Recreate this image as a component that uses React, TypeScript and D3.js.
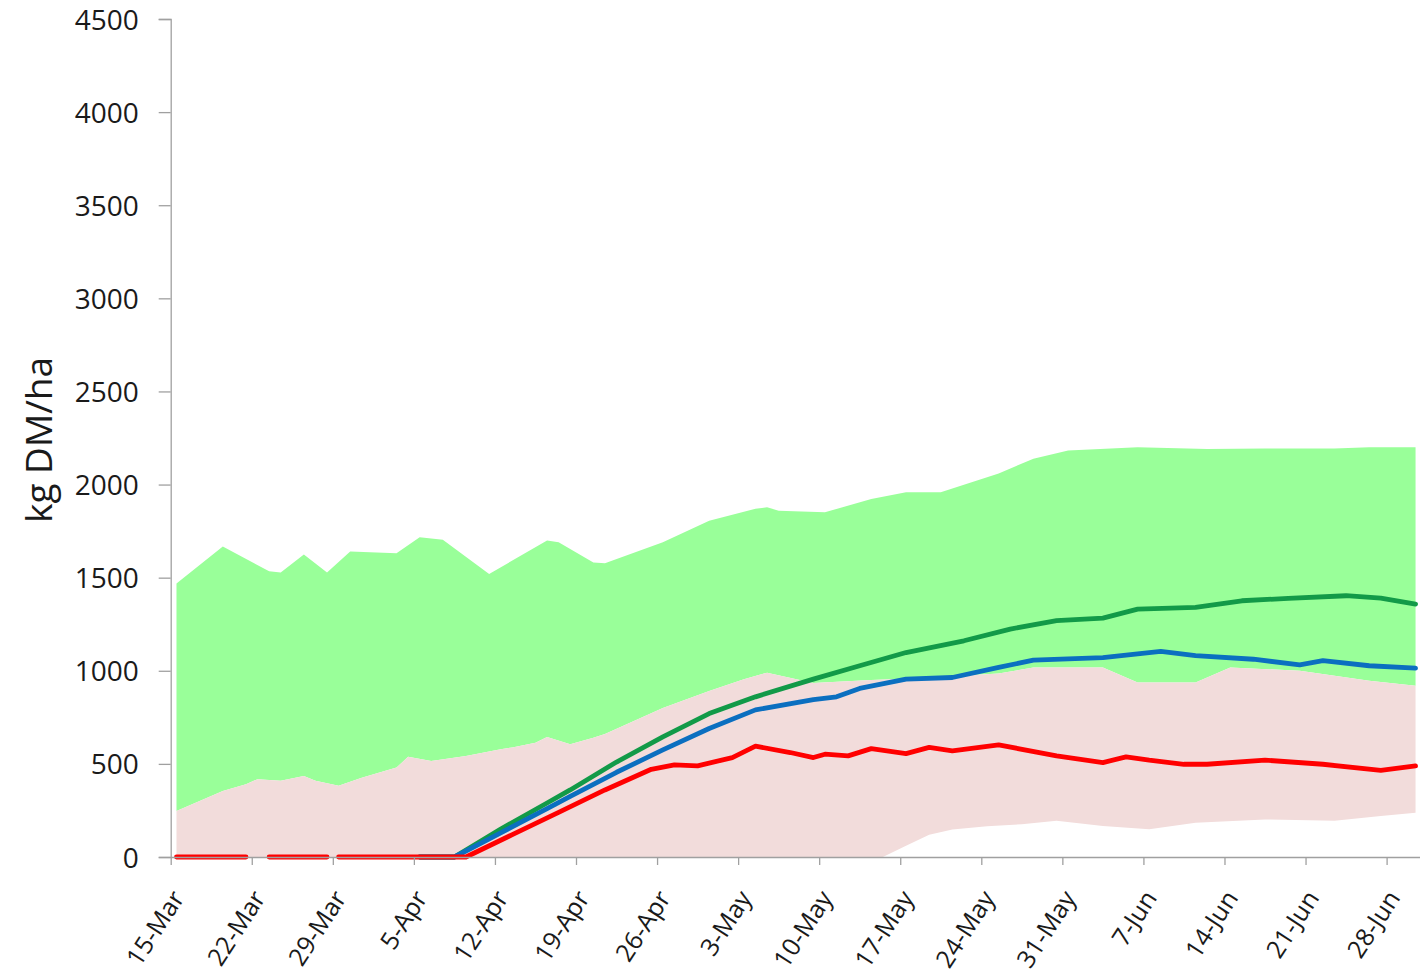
import React, { useEffect, useRef } from "react";
import * as d3 from "d3";

// Day offsets are counted from 15-Mar (day 0); values in kg DM/ha
const startDate = Date.UTC(2023, 2, 15);
const endDate = Date.UTC(2023, 6, 1);

const yTicks = [0, 500, 1000, 1500, 2000, 2500, 3000, 3500, 4000, 4500];
const xTickDays = [0, 7, 14, 21, 28, 35, 42, 49, 56, 63, 70, 77, 84, 91, 98, 105];

const greenBandTop: [number, number][] = [
  [0, 1469], [4, 1667], [8, 1534], [9, 1528], [11, 1624], [13, 1528], [15, 1641],
  [19, 1631], [21, 1717], [23, 1703], [27, 1520], [32, 1699], [33, 1690], [36, 1582],
  [37, 1577], [42, 1690], [46, 1806], [50, 1870], [51, 1878], [52, 1860], [56, 1851],
  [60, 1923], [63, 1959], [66, 1959], [71, 2060], [74, 2139], [77, 2183], [83, 2200],
  [89, 2191], [94, 2193], [100, 2193], [103, 2200], [107, 2200],
];

const pinkBandTop: [number, number][] = [
  [0, 247], [1, 274], [3, 328], [4, 355], [6, 391], [7, 418], [9, 409], [11, 435],
  [12, 409], [14, 382], [16, 426], [19, 480], [20, 538], [22, 516], [25, 543],
  [28, 579], [29, 588], [31, 614], [32, 645], [34, 606], [36, 641], [37, 660],
  [42, 800], [46, 892], [49, 955], [51, 990], [55, 935], [60, 950], [64, 960],
  [68, 975], [71, 985], [74, 1018], [80, 1018], [83, 937], [88, 937], [91, 1018],
  [97, 1000], [100, 973], [103, 946], [107, 919],
];

const pinkBandBottom: [number, number][] = [
  [0, 0], [61, 0], [63, 60], [65, 120], [67, 148], [70, 165], [73, 176], [76, 194],
  [80, 167], [84, 149], [88, 184], [94, 202], [100, 194], [104, 220], [107, 238],
];

const greenLine: [number, number][] = [
  [21, 0], [24, 0], [28, 150], [32, 290], [34, 360], [38, 510], [42, 645], [46, 770],
  [50, 860], [55, 955], [59, 1027], [63, 1098], [68, 1161], [72, 1224], [76, 1269],
  [80, 1283], [83, 1331], [88, 1340], [92, 1376], [96, 1389], [101, 1403], [104, 1390],
  [107, 1358],
];

const blueLine: [number, number][] = [
  [21, 0], [24, 0], [28, 130], [32, 260], [34, 325], [38, 455], [42, 575], [46, 690],
  [50, 790], [55, 845], [57, 860], [59, 905], [63, 955], [67, 964], [71, 1018],
  [74, 1057], [80, 1071], [85, 1104], [88, 1081], [93, 1062], [97, 1032], [99, 1054],
  [103, 1027], [107, 1014],
];

const redLine: [number, number | null][] = [
  [0, 0], [6, 0], [7, null], [8, 0], [13, 0], [13.5, null], [14, 0], [25, 0],
  [29, 120], [33, 240], [37, 360], [41, 471], [43, 495], [45, 489], [48, 534],
  [50, 595], [53, 561], [55, 534], [56, 552], [58, 543], [60, 582], [63, 555],
  [65, 589], [67, 570], [71, 602], [76, 543], [80, 507], [82, 538], [84, 520],
  [87, 498], [89, 498], [94, 520], [99, 498], [104, 465], [107, 489],
];

const DAY = 86400000;
const W = 1420;
const H = 973;
const FONT = "'Open Sans', 'Noto Sans', sans-serif";

export default function App() {
  const ref = useRef<SVGSVGElement>(null);

  useEffect(() => {
    const svg = d3.select(ref.current);
    svg.selectAll("*").remove();

    const x = d3.scaleUtc().domain([startDate, endDate]).range([170.7, 170.7 + 108 * 11.58]);
    const y = d3.scaleLinear().domain([0, 4500]).range([857, 19]);
    const xd = (d: number) => x(startDate + d * DAY + DAY / 2);

    const poly = (top: [number, number][], bottom: [number, number][]) => {
      const pts: [number, number][] = [
        ...top.map((p) => [xd(p[0]), y(p[1])] as [number, number]),
        ...bottom.slice().reverse().map((p) => [xd(p[0]), y(p[1])] as [number, number]),
      ];
      return d3.line()(pts) + "Z";
    };

    svg.append("path").attr("d", poly(greenBandTop, pinkBandTop)).attr("fill", "#99FF99");
    svg.append("path").attr("d", poly(pinkBandTop, pinkBandBottom)).attr("fill", "#F2DCDB");

    const lineGen = d3
      .line<[number, number | null]>()
      .defined((d) => d[1] !== null)
      .x((d) => xd(d[0]))
      .y((d) => y(d[1] as number));

    const series: [any[], string][] = [
      [greenLine, "#129A48"],
      [blueLine, "#0B6FC0"],
      [redLine, "#FF0000"],
    ];
    series.forEach(([data, color]) => {
      svg
        .append("path")
        .attr("d", lineGen(data) as string)
        .attr("fill", "none")
        .attr("stroke", color)
        .attr("stroke-width", 4.8)
        .attr("stroke-linejoin", "round")
        .attr("stroke-linecap", "round");
    });

    // Y axis
    const yAxis = d3
      .axisLeft(y)
      .tickValues(yTicks)
      .tickSize(12)
      .tickPadding(20)
      .tickFormat((d) => String(d));
    const gy = svg.append("g").attr("transform", "translate(170.7,0)").call(yAxis);
    gy.select(".domain").attr("stroke", "#A0A0A0").attr("stroke-width", 1.3);
    gy.selectAll(".tick line").attr("stroke", "#A0A0A0").attr("stroke-width", 1.3);
    gy.selectAll(".tick text")
      .attr("font-family", FONT)
      .attr("font-size", 28)
      .attr("dy", "0.36em")
      .attr("fill", "#1a1a1a");

    // X axis
    const xAxis = d3
      .axisBottom(x)
      .tickValues(xTickDays.map((d) => new Date(startDate + d * DAY)))
      .tickSize(8)
      .tickSizeOuter(0)
      .tickFormat((d) => d3.utcFormat("%-d-%b")(d as Date));
    const gx = svg.append("g").attr("transform", "translate(0,857)").call(xAxis);
    gx.select(".domain").attr("stroke", "#A0A0A0").attr("stroke-width", 1.3);
    gx.selectAll(".tick line").attr("stroke", "#A0A0A0").attr("stroke-width", 1.3);
    gx.selectAll(".tick text")
      .attr("font-family", FONT)
      .attr("font-size", 25)
      .attr("fill", "#1a1a1a")
      .attr("text-anchor", "end")
      .attr("dy", null)
      .attr("y", null)
      .attr("transform", "translate(14,41) rotate(-57)");

    // Y label
    svg
      .append("text")
      .attr("transform", "translate(52,440) rotate(-90)")
      .attr("text-anchor", "middle")
      .attr("font-family", FONT)
      .attr("font-size", 37)
      .attr("fill", "#1a1a1a")
      .text("kg DM/ha");
  }, []);

  return (
    <svg
      ref={ref}
      width={W}
      height={H}
      style={{ position: "absolute", left: 0, top: 0, background: "#fff" }}
    />
  );
}
